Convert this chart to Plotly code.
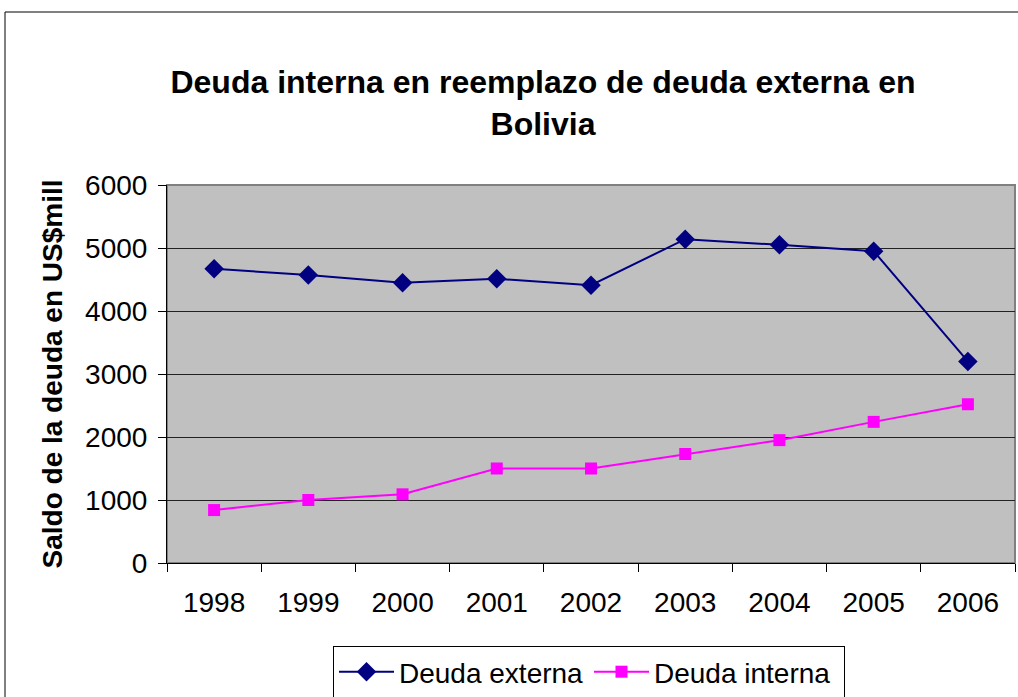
import plotly.graph_objects as go

years = ["1998", "1999", "2000", "2001", "2002", "2003", "2004", "2005", "2006"]
deuda_externa = [4670, 4570, 4450, 4510, 4410, 5140, 5050, 4950, 3200]
deuda_interna = [840, 1000, 1090, 1500, 1500, 1730, 1950, 2240, 2520]
y_ticks = [0, 1000, 2000, 3000, 4000, 5000, 6000]

FONT = "Arial, Liberation Sans, sans-serif"

W, H = 1018, 697
L, R, T, B = 167, 1015, 185, 563
pw, ph = R - L, B - T

def px_x(x):
    return (x - L) / pw

def px_y(y):
    return (B - y) / ph

fig = go.Figure()
fig.add_trace(go.Scatter(
    x=years, y=deuda_externa, name="Deuda externa", mode="lines+markers",
    line=dict(color="#000080", width=2),
    marker=dict(symbol="diamond", size=15, color="#000080"),
))
fig.add_trace(go.Scatter(
    x=years, y=deuda_interna, name="Deuda interna", mode="lines+markers",
    line=dict(color="#FF00FF", width=2),
    marker=dict(symbol="square", size=12, color="#FF00FF"),
))

fig.update_layout(
    width=W, height=H,
    margin=dict(l=L, r=W - R, t=T, b=H - B, autoexpand=False),
    paper_bgcolor="white",
    plot_bgcolor="#C0C0C0",
    font=dict(family=FONT, size=28, color="black"),
    title=dict(
        text="<b>Deuda interna en reemplazo de deuda externa en<br>Bolivia</b>",
        x=543 / W, xanchor="center",
        y=1 - 93 / H, yanchor="middle", yref="container",
        font=dict(family=FONT, size=32, color="black"),
    ),
    xaxis=dict(
        type="category", tickson="boundaries", ticks="outside", ticklen=8,
        tickcolor="black", showline=True, linecolor="black", linewidth=1,
        showgrid=False, tickfont=dict(size=28), range=[-0.5, 8.5],
        automargin=False, ticklabelstandoff=14,
    ),
    yaxis=dict(
        range=[0, 6000], tickvals=y_ticks, ticks="outside", ticklen=8,
        tickcolor="black", showline=True, linecolor="black", linewidth=1,
        showgrid=True, gridcolor="#222222", gridwidth=1, zeroline=False,
        tickfont=dict(size=28), automargin=False, ticklabelstandoff=5,
        title=dict(text="<b>Saldo de la deuda en US$mill</b>",
                   font=dict(size=28), standoff=14),
    ),
    legend=dict(
        orientation="h", x=px_x(589), xanchor="center",
        y=px_y(646), yanchor="top",
        bordercolor="black", borderwidth=1, bgcolor="white",
        font=dict(size=28), itemwidth=55,
        entrywidth=185, entrywidthmode="pixels",
    ),
    showlegend=True,
)

# plot area border (gray top/right)
fig.add_shape(type="rect", xref="paper", yref="paper", x0=0, y0=0, x1=1, y1=1,
              line=dict(color="#808080", width=2), layer="below")
# outer chart border
fig.add_shape(type="rect", xref="paper", yref="paper",
              x0=px_x(5), y0=px_y(700), x1=px_x(1030), y1=px_y(12),
              line=dict(color="black", width=1))

fig.write_html("out.html", config={"displayModeBar": False},
               post_script="document.body.style.margin='0';document.body.style.overflow='hidden';")
